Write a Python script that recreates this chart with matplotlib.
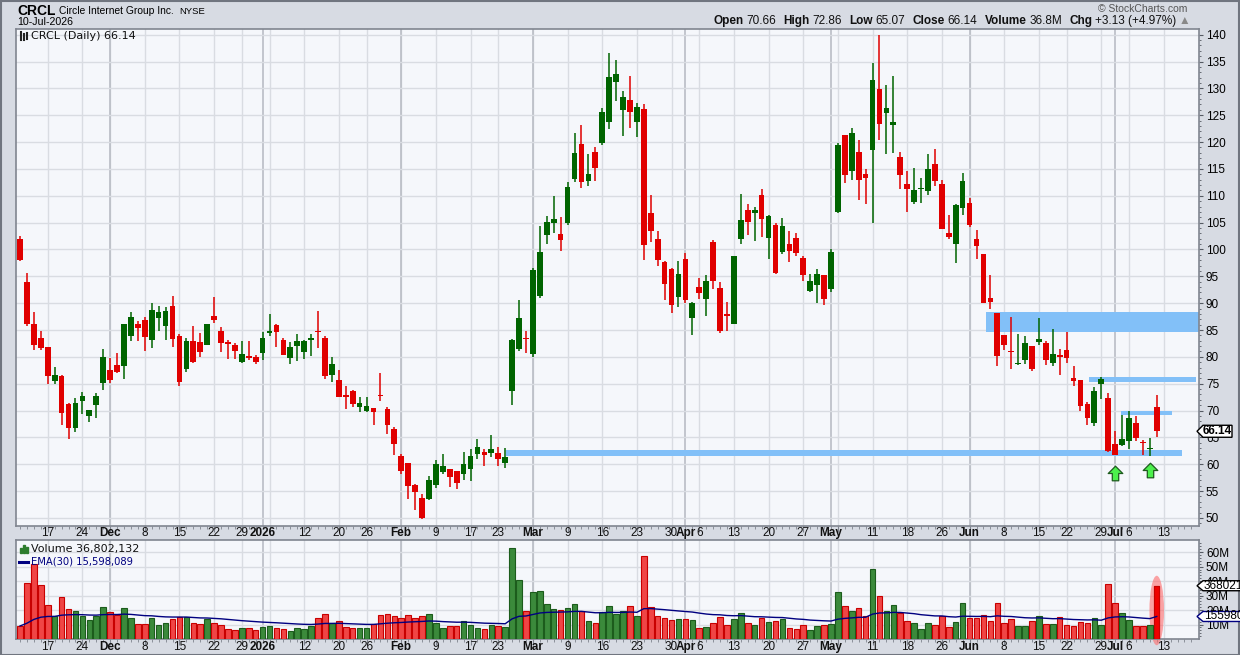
import numpy as np
import pandas as pd
import matplotlib
matplotlib.use('Agg')
import matplotlib.pyplot as plt
import matplotlib.transforms as mtransforms
from matplotlib.patches import Ellipse, Polygon, Rectangle
from matplotlib.path import Path

plt.rcParams['font.family'] = ['Liberation Sans', 'DejaVu Sans']

# ---- data ----
start_day = '2025-11-11'
holidays = ['2025-11-27', '2025-12-25', '2026-01-01', '2026-01-19', '2026-02-16',
            '2026-04-03', '2026-05-25', '2026-06-19', '2026-07-03']

opens = [102.0, 93.9, 86.1, 83.5, 81.8, 75.5, 76.4, 71.2, 66.7, 71.7,
         69.0, 71.0, 75.1, 77.5, 78.4, 78.3, 83.9, 86.1, 86.8, 83.1,
         87.2, 85.7, 89.4, 83.8, 77.8, 82.9, 82.7, 82.2, 87.7, 84.8,
         82.7, 82.3, 79.1, 80.2, 80.0, 80.7, 84.5, 85.9, 83.1, 79.8,
         82.0, 80.9, 83.1, 84.9, 83.5, 76.6, 75.6, 72.9, 73.6, 70.7,
         70.0, 70.4, 72.9, 70.3, 66.5, 61.5, 60.2, 56.1, 53.7, 53.5,
         56.2, 58.5, 59.1, 58.7, 58.2, 59.2, 62.0, 62.2, 62.1, 62.1,
         60.3, 73.7, 81.4, 83.6, 80.5, 91.3, 102.6, 105.0, 102.8, 105.0,
         113.2, 119.7, 112.8, 118.2, 119.9, 123.8, 131.2, 126.0, 127.9, 123.8,
         126.2, 106.7, 101.9, 97.6, 96.3, 91.1, 98.3, 87.2, 93.1, 90.7,
         101.3, 92.9, 87.9, 86.1, 102.0, 107.4, 106.7, 110.2, 102.2, 104.6,
         99.6, 101.1, 102.2, 98.5, 92.2, 93.3, 95.2, 92.6, 106.9, 121.4,
         114.7, 118.2, 114.1, 118.6, 129.9, 125.5, 123.2, 117.3, 112.1, 108.9,
         111.2, 110.8, 116.0, 112.1, 103.0, 101.1, 107.8, 108.6, 101.9, 99.1,
         90.9, 88.1, 84.0, 81.1, 78.6, 79.4, 82.0, 82.7, 82.5, 78.8,
         80.3, 81.2, 76.0, 75.6, 71.2, 67.7, 74.9, 72.3, 63.8, 63.6,
         64.3, 67.7, 64.1, 62.8, 70.66]
highs = [102.5, 95.6, 88.3, 84.9, 81.8, 78.1, 76.6, 71.4, 72.3, 73.4,
         70.1, 73.2, 81.4, 79.7, 80.7, 86.2, 88.3, 86.6, 87.4, 90.0,
         89.4, 89.2, 91.3, 84.2, 83.5, 85.7, 84.4, 86.2, 91.1, 85.5,
         83.1, 82.5, 82.9, 82.9, 80.4, 84.6, 87.9, 86.1, 83.6, 82.7,
         84.2, 83.1, 84.2, 88.5, 83.8, 79.9, 77.5, 74.5, 73.8, 72.5,
         72.5, 70.4, 77.0, 70.6, 66.9, 61.9, 60.2, 56.3, 54.5, 57.8,
         60.8, 61.9, 59.1, 58.7, 62.2, 62.8, 64.7, 62.8, 65.4, 63.2,
         63.0, 83.3, 90.5, 84.9, 96.5, 104.3, 106.3, 110.0, 106.1, 112.6,
         121.7, 123.2, 117.7, 119.1, 126.4, 136.6, 135.3, 129.6, 132.3, 127.3,
         127.0, 110.2, 103.5, 97.8, 96.5, 97.8, 99.4, 90.3, 94.6, 95.2,
         101.7, 93.9, 90.3, 98.7, 110.4, 108.5, 108.0, 111.2, 106.5, 105.0,
         105.8, 103.5, 103.0, 98.7, 95.4, 96.3, 95.2, 100.0, 119.9, 121.4,
         122.7, 120.4, 114.9, 134.8, 140.0, 130.7, 132.3, 118.2, 114.7, 115.2,
         113.4, 117.8, 118.8, 113.0, 106.5, 108.4, 114.3, 109.5, 103.7, 99.1,
         95.2, 88.1, 84.0, 87.4, 84.2, 83.8, 82.0, 87.2, 82.9, 85.1,
         81.4, 84.7, 78.3, 75.6, 71.6, 74.3, 76.2, 73.2, 66.2, 69.1,
         69.9, 69.0, 64.5, 64.9, 72.86]
lows = [97.8, 85.8, 81.3, 81.3, 75.0, 75.0, 67.3, 64.7, 66.0, 69.3,
        67.9, 68.6, 73.8, 75.2, 77.0, 75.9, 82.9, 82.9, 81.1, 81.7,
        84.8, 83.1, 81.8, 74.6, 77.2, 78.9, 80.0, 82.2, 86.3, 80.9,
        79.6, 79.6, 78.9, 79.4, 78.7, 79.4, 83.9, 81.8, 80.4, 78.7,
        79.2, 79.6, 80.2, 81.7, 75.9, 75.3, 72.5, 70.3, 70.7, 69.8,
        69.8, 67.3, 71.7, 65.7, 61.8, 58.2, 53.6, 51.4, 49.8, 53.3,
        55.6, 58.2, 55.8, 55.3, 57.1, 56.9, 61.0, 59.7, 61.3, 59.7,
        59.3, 71.1, 81.0, 80.7, 80.0, 91.0, 101.1, 103.0, 99.8, 104.6,
        112.5, 111.5, 111.9, 112.8, 119.5, 122.5, 127.7, 121.2, 122.7, 121.0,
        98.1, 101.3, 97.0, 90.5, 88.1, 89.2, 90.0, 84.0, 90.7, 87.7,
        92.7, 84.4, 84.8, 86.1, 101.1, 102.6, 101.5, 102.4, 98.3, 95.5,
        99.1, 97.6, 98.7, 94.1, 92.0, 90.0, 89.6, 92.0, 106.7, 112.3,
        113.0, 109.3, 108.5, 105.0, 120.3, 117.8, 118.0, 111.2, 106.9, 108.4,
        108.7, 110.2, 111.9, 103.9, 102.0, 97.4, 106.5, 104.1, 98.3, 90.0,
        89.0, 78.3, 81.2, 77.7, 78.4, 78.6, 77.3, 82.2, 78.4, 78.3,
        76.6, 78.8, 74.5, 69.9, 67.3, 67.1, 72.1, 62.3, 61.7, 63.4,
        62.8, 64.3, 61.7, 61.5, 65.07]
closes = [98.0, 86.1, 82.2, 81.7, 76.5, 76.6, 69.6, 66.7, 71.4, 72.7,
          70.1, 72.7, 79.9, 75.7, 77.1, 86.2, 87.4, 85.4, 83.7, 88.8,
          88.3, 88.5, 83.3, 75.3, 82.9, 79.1, 80.9, 86.1, 86.9, 82.6,
          82.4, 81.1, 80.5, 79.8, 79.1, 83.5, 84.8, 84.6, 80.4, 81.8,
          82.9, 82.9, 83.5, 84.6, 76.5, 78.6, 72.6, 72.6, 71.2, 71.4,
          70.8, 69.8, 72.7, 67.3, 63.8, 58.8, 56.0, 54.9, 50.0, 57.1,
          60.0, 59.7, 57.7, 56.6, 60.0, 61.5, 63.2, 61.8, 62.9, 61.0,
          61.3, 83.1, 87.2, 83.3, 96.1, 99.6, 105.2, 105.6, 101.7, 111.7,
          118.0, 112.5, 114.1, 115.1, 125.6, 132.2, 132.7, 128.3, 125.6, 126.6,
          100.9, 103.5, 98.0, 93.5, 89.6, 95.4, 90.5, 90.1, 91.8, 94.1,
          94.2, 84.9, 87.7, 98.7, 105.4, 105.2, 107.4, 105.6, 106.3, 95.7,
          104.3, 99.8, 99.4, 95.2, 94.2, 95.5, 90.7, 99.6, 119.5, 113.9,
          121.7, 113.0, 113.4, 131.6, 123.4, 126.4, 123.8, 113.8, 111.2, 111.0,
          111.5, 114.9, 112.8, 103.9, 102.4, 108.2, 112.8, 104.6, 100.6, 90.0,
          90.3, 80.1, 82.3, 80.9, 78.8, 82.5, 77.7, 83.3, 79.5, 80.5,
          79.9, 79.7, 75.5, 70.8, 68.6, 73.6, 75.8, 62.5, 61.7, 64.7,
          68.6, 64.9, 63.9, 63.01, 66.14]
volumes = [9.0, 38.6, 51.7, 37.0, 23.2, 16.1, 28.7, 20.5, 19.1, 15.6,
           13.1, 15.6, 21.8, 18.4, 16.6, 21.1, 14.3, 10.1, 10.1, 14.3,
           9.4, 10.8, 13.6, 15.2, 14.9, 10.8, 10.1, 13.6, 10.8, 9.4,
           6.9, 6.2, 7.4, 7.4, 6.0, 8.0, 8.7, 7.4, 6.7, 5.3,
           7.6, 6.9, 8.7, 14.3, 17.0, 10.8, 12.2, 8.0, 7.6, 7.4,
           7.4, 10.1, 16.3, 17.0, 15.6, 14.3, 16.3, 14.3, 15.6, 17.0,
           10.8, 7.4, 8.7, 8.7, 12.2, 9.4, 7.4, 6.7, 9.4, 8.7,
           8.0, 63.2, 41.1, 19.1, 32.2, 32.9, 23.9, 20.5, 19.8, 21.1,
           23.9, 19.1, 12.2, 10.8, 18.4, 22.5, 17.0, 19.1, 22.5, 15.6,
           57.2, 21.8, 15.6, 14.3, 12.9, 13.6, 13.6, 12.9, 7.4, 8.0,
           10.8, 14.9, 9.4, 13.6, 17.7, 10.8, 9.4, 14.3, 11.5, 12.2,
           13.6, 7.4, 6.7, 9.4, 6.0, 8.7, 9.4, 10.1, 32.2, 22.5,
           19.1, 21.1, 15.6, 48.7, 29.4, 19.1, 23.2, 17.7, 12.2, 10.8,
           6.7, 10.8, 9.4, 15.6, 8.0, 11.5, 24.6, 14.3, 14.3, 16.3,
           12.2, 24.6, 10.8, 13.6, 8.7, 8.7, 12.2, 15.6, 10.1, 10.1,
           14.9, 9.4, 8.7, 11.5, 10.8, 14.3, 9.4, 37.7, 24.6, 17.7,
           12.9, 8.7, 8.7, 9.4, 36.8]

# drawn support / resistance zones: (first bar, last bar, low, high)
zones = [(70.1, 167.7, 61.5, 62.6),
         (139.4, 171.0, 84.6, 88.3),
         (154.3, 169.7, 75.3, 76.2),
         (158.9, 166.2, 69.1, 69.9)]
arrow_bars = [158, 163]
arrow_prices = [58.4, 58.9]

# ---- dates ----
days = pd.bdate_range(start_day, '2026-07-24')
days = days[~days.isin(pd.to_datetime(holidays))]
n = len(closes)
idx = np.arange(n)
o, h, l, c = map(np.array, (opens, highs, lows, closes))
vol = np.array(volumes)
up = c >= o
ema = pd.Series(vol).ewm(span=30, adjust=False).mean().values

W, H = 1240, 655
fig = plt.figure(figsize=(W / 100, H / 100), dpi=100, facecolor='#d7dbe3')
fig.patches.append(Rectangle((0.5, 0.5), W - 1.5, H - 1.5, transform=mtransforms.IdentityTransform(),
                             fill=False, ec='#70757f', lw=1.5))

def px_axes(x0, y0, x1, y1):
    return fig.add_axes([x0 / W, 1 - y1 / H, (x1 - x0) / W, (y1 - y0) / H])

ax = px_axes(16, 29.3, 1199, 526)
axv = px_axes(16, 540, 1199, 639)
XL = (-0.58, 170.1)

week_starts, month_starts = [], []
for i in range(1, len(days)):
    if days[i].isocalendar()[1] != days[i - 1].isocalendar()[1] and i < 169.5:
        week_starts.append(i)
    if days[i].month != days[i - 1].month and i < 169.5:
        month_starts.append(i)

labels = []
for i in month_starts:
    txt = str(days[i].year) if days[i].month == 1 else days[i].strftime('%b')
    labels.append((i, txt, 'bold'))
for i in week_starts:
    if any(0 <= i - m <= 1 for m in month_starts):
        continue
    labels.append((i, str(days[i].day), 'normal'))

for a in (ax, axv):
    a.set_facecolor('#f5f7fb')
    a.set_xlim(*XL)
    for i in week_starts:
        a.axvline(i, color='#d9dce2', lw=1, zorder=0)
    for i in month_starts:
        a.axvline(i, color='#b9bdc5', lw=1.2, zorder=0)
    a.yaxis.tick_right()
    a.set_xticks(week_starts)
    a.set_xticks(np.arange(0, 170), minor=True)
    a.tick_params(axis='x', which='major', length=4, color='#7f848e', labelbottom=False)
    a.tick_params(axis='x', which='minor', length=2, color='#7f848e')
    a.tick_params(axis='y', which='major', length=3, pad=2, labelsize=8.5, color='#555a63')
    a.tick_params(axis='y', which='minor', length=1.5, color='#555a63')
    for s in a.spines.values():
        s.set_color('#80858f')
        s.set_linewidth(1.2)
    a.grid(axis='y', color='#d9dce2', lw=1, zorder=0)
    a.set_axisbelow(True)
    tr = mtransforms.blended_transform_factory(a.transData, a.transAxes)
    yoff = -7 / 497 if a is ax else -8 / 99
    for i, txt, wt in labels:
        a.text(i, yoff, txt, transform=tr, ha='center', va='center', fontsize=8.5,
               fontweight=wt, color='#111111')

# ---- price panel ----
ax.set_ylim(48.5, 141)
ax.set_yticks(np.arange(50, 141, 5))
ax.set_yticks(np.arange(49, 141, 1), minor=True)

for x0, x1, y0, y1 in zones:
    ax.add_patch(Rectangle((x0, y0), x1 - x0, y1 - y0, color='#82c0f8', lw=0, zorder=1, clip_on=True))

col = np.where(up, '#006400', '#e00000')
ax.vlines(idx, l, h, colors=col, lw=1.1, zorder=3)
body_lo = np.minimum(o, c)
body_h = np.maximum(np.abs(c - o), 0.2)
ax.bar(idx, body_h, width=0.82, bottom=body_lo, color=col, lw=0, zorder=4)

arrow = Path([(-0.5, 0), (0, 0.5), (0.5, 0), (0.22, 0), (0.22, -0.5), (-0.22, -0.5), (-0.22, 0), (-0.5, 0)],
             [Path.MOVETO] + [Path.LINETO] * 6 + [Path.CLOSEPOLY])
ax.scatter(arrow_bars, arrow_prices, marker=arrow, s=110, c='#4cf04c', edgecolors='#1d5a1d',
           linewidths=0.9, zorder=5)

# legend line
ident = mtransforms.IdentityTransform()
fig.text(31, H - 36, 'CRCL (Daily) 66.14', transform=ident, family='DejaVu Sans', fontsize=8,
         va='center', color='#111111')
for dx, y0, y1 in [(21, 32, 40), (24, 34, 40), (27, 33, 39)]:
    fig.lines.append(plt.Line2D([dx, dx], [H - y1, H - y0], transform=ident, color='#222222', lw=1.5))

# current price tag
yc = ax.transData.transform((0, c[-1]))[1]
fig.patches.append(Polygon([(1197, yc), (1203, yc + 6), (1232, yc + 6), (1232, yc - 6), (1203, yc - 6)],
                           closed=True, transform=ident, fc='white', ec='black', lw=1, zorder=10))
fig.text(1217.5, yc, '%.2f' % c[-1], transform=ident, ha='center', va='center', fontsize=8.5,
         fontweight='bold', zorder=11)

# ---- volume panel ----
axv.set_ylim(0, 68.4)
axv.set_yticks(np.arange(10, 61, 10))
axv.set_yticklabels(['%dM' % v for v in range(10, 61, 10)])
axv.set_yticks(np.arange(2, 68, 2), minor=True)
axv.add_patch(Ellipse((n - 1, 19.7), 2.1, 48, color='#ff6a6a', alpha=0.6, lw=0, zorder=2, clip_on=False))
vface = np.where(up, '#3b8a3b', '#f04545')
vedge = np.where(up, '#1c5c1c', '#c80000')
axv.bar(idx, vol, width=0.8, color=vface, edgecolor=vedge, lw=0.8, zorder=3)
axv.bar(n - 1, vol[-1], width=0.8, color='#f00000', edgecolor='#c80000', lw=0.8, zorder=4)
axv.plot(idx, ema, color='#000080', lw=1, zorder=5)

fig.text(31, H - 549, 'Volume 36,802,132', transform=ident, family='DejaVu Sans', fontsize=8,
         va='center', color='#111111')
fig.text(31, H - 562, 'EMA(30) 15,598,089', transform=ident, family='DejaVu Sans', fontsize=7.2,
         va='center', color='#000080')
for dx, hh in [(20, 5), (23, 8), (26, 6)]:
    fig.patches.append(Rectangle((dx, H - 553), 2, hh, transform=ident, color='#2e7d2e'))
fig.lines.append(plt.Line2D([19, 28], [H - 562, H - 562], transform=ident, color='#000080', lw=2.2))

for val, ec in [(36.802132, 'black'), (ema[-1], '#000080')]:
    y = axv.transData.transform((0, val))[1]
    fig.patches.append(Polygon([(1197, y), (1203, y + 5), (1245, y + 5), (1245, y - 5), (1203, y - 5)],
                               closed=True, transform=ident, fc='white', ec=ec, lw=1, zorder=10))
txt1 = fig.text(1204, axv.transData.transform((0, 36.802132))[1], '36802132', transform=ident,
                va='center', fontsize=8.5, zorder=11)
txt2 = fig.text(1204, axv.transData.transform((0, ema[-1]))[1], '15598089', transform=ident,
                va='center', fontsize=8.5, zorder=11)

# ---- header ----
fig.text(17, H - 11, 'CRCL', transform=ident, fontsize=10, fontweight='bold', va='center')
fig.text(59, H - 11, 'Circle Internet Group Inc.', transform=ident, fontsize=7.4, va='center')
fig.text(179, H - 11, 'NYSE', transform=ident, fontsize=6.8, va='center')
fig.text(17, H - 22, '10-Jul-2026', transform=ident, fontsize=7.7, va='center')
fig.text(1187, H - 9, '\u00a9 StockCharts.com', transform=ident, fontsize=7.5, va='center',
         ha='right', color='#555555')

parts = [('Open', 'bold', 3), ('%.2f' % o[-1], 'normal', 7), ('High', 'bold', 3), ('%.2f' % h[-1], 'normal', 7),
         ('Low', 'bold', 3), ('%.2f' % l[-1], 'normal', 7), ('Close', 'bold', 3), ('%.2f' % c[-1], 'normal', 7),
         ('Volume', 'bold', 3), ('36.8M', 'normal', 7), ('Chg', 'bold', 3), ('+3.13 (+4.97%)', 'normal', 2),
         ('\u25b2', 'normal', 0)]
r = fig.canvas.get_renderer()
objs = []
for s, wt, gap in parts:
    t = fig.text(0, H - 21, s, transform=ident, fontsize=8.5, fontweight=wt, va='center',
                 color='#888888' if s == '\u25b2' else '#111111')
    objs.append((t, t.get_window_extent(r).width + gap))
x = 1190 - sum(wd for _, wd in objs)
for t, wd in objs:
    t.set_x(x)
    x += wd

fig.savefig('out.png', dpi=100, facecolor=fig.get_facecolor())
